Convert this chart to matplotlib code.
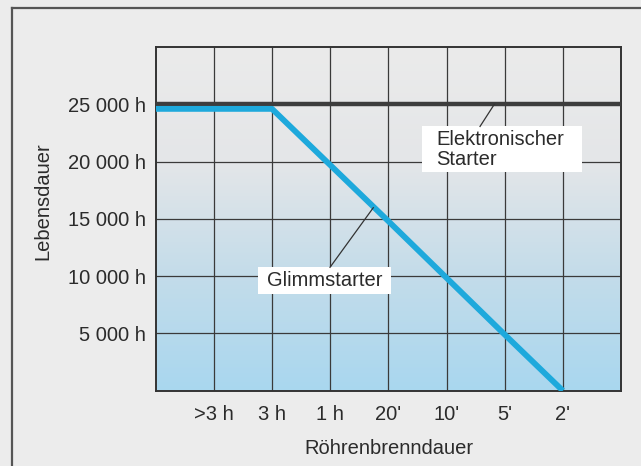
import numpy as np
import matplotlib
matplotlib.use('Agg')
import matplotlib.pyplot as pl
from matplotlib import rcParams
from matplotlib.patches import Rectangle
from matplotlib.lines import Line2D
from matplotlib.colors import LinearSegmentedColormap

rcParams['font.family'] = ['Liberation Sans', 'DejaVu Sans']
fontsize = 14.5
txtcol = '#2b2b2b'

# data
x_labels = ['', '>3 h', '3 h', '1 h', "20'", "10'", "5'", "2'", '']
glimm = [24600, 24600, 24600, 19700, 14800, 9850, 4900, 0]   # Glimmstarter, x = 0..7
elektro = 25000                                             # Elektronischer Starter
y_ticks = [5000, 10000, 15000, 20000, 25000]
y_labels = ['5 000 h', '10 000 h', '15 000 h', '20 000 h', '25 000 h']

fig = pl.figure(figsize=(6.41, 4.66), dpi=100)
fig.patch.set_facecolor('#ececec')
ax = fig.add_axes([155.7/641, 1-390.7/466, (621-155.7)/641, (390.7-47)/466])

# background gradient grey -> light blue
cmap = LinearSegmentedColormap.from_list('bg', ['#a9d7ef', '#c3dcea', '#e4e6e8', '#ebebeb'])
grad = np.linspace(0, 1, 256).reshape(-1, 1)
ax.imshow(grad, extent=[0, 8, 0, 30000], origin='lower', aspect='auto', cmap=cmap, zorder=0)

ax.set_xlim(0, 8)
ax.set_ylim(0, 30000)
ax.set_xticks(range(len(x_labels)))
ax.set_xticklabels(x_labels)
ax.set_yticks(y_ticks)
ax.set_yticklabels(y_labels)
ax.tick_params(length=0, labelsize=fontsize, colors=txtcol)
ax.tick_params(axis='x', pad=10)
ax.tick_params(axis='y', pad=7)
for s in ax.spines.values():
    s.set_color('#333333')
    s.set_linewidth(1.4)

for xv in range(1, 8):
    ax.axvline(xv, color='#3a3a3a', lw=0.9, zorder=1)
for yv in y_ticks:
    ax.axhline(yv, color='#3a3a3a', lw=0.9, zorder=1)

ax.axhline(elektro, color='#3d3d3d', lw=3.2, zorder=3)
ax.plot(range(len(glimm)), glimm, color='#1ea9dc', lw=4.2, solid_capstyle='butt', zorder=4)

# label boxes with leader lines
ax.add_patch(Rectangle((4.574, 19071), 2.756, 3993, facecolor='white', edgecolor='none', zorder=5))
ax.text(4.82, 21050, 'Elektronischer\nStarter', fontsize=fontsize, color=txtcol,
        ha='left', va='center', linespacing=1.05, zorder=6)
ax.plot([5.576, 5.822], [23064, 25000], color='#333333', lw=0.9, zorder=5)

ax.add_patch(Rectangle((1.764, 8450), 2.28, 2320, facecolor='white', edgecolor='none', zorder=5))
ax.text(2.904, 9650, 'Glimmstarter', fontsize=fontsize, color=txtcol,
        ha='center', va='center', zorder=6)
ax.plot([2.997, 3.741], [10770, 15972], color='#333333', lw=0.9, zorder=5)

fig.text(43/641, 1-201/466, 'Lebensdauer', rotation=90, fontsize=fontsize, color=txtcol,
         ha='center', va='center')
fig.text(389/641, 1-448/466, 'Röhrenbrenndauer', fontsize=fontsize, color=txtcol,
         ha='center', va='center')

# outer frame (top and left edges)
fig.add_artist(Line2D([12/641, 1], [1-8/466, 1-8/466], color='#555555', lw=1.6))
fig.add_artist(Line2D([12/641, 12/641], [0, 1-8/466], color='#555555', lw=1.6))

pl.savefig('out.png', dpi=100, facecolor=fig.get_facecolor())
